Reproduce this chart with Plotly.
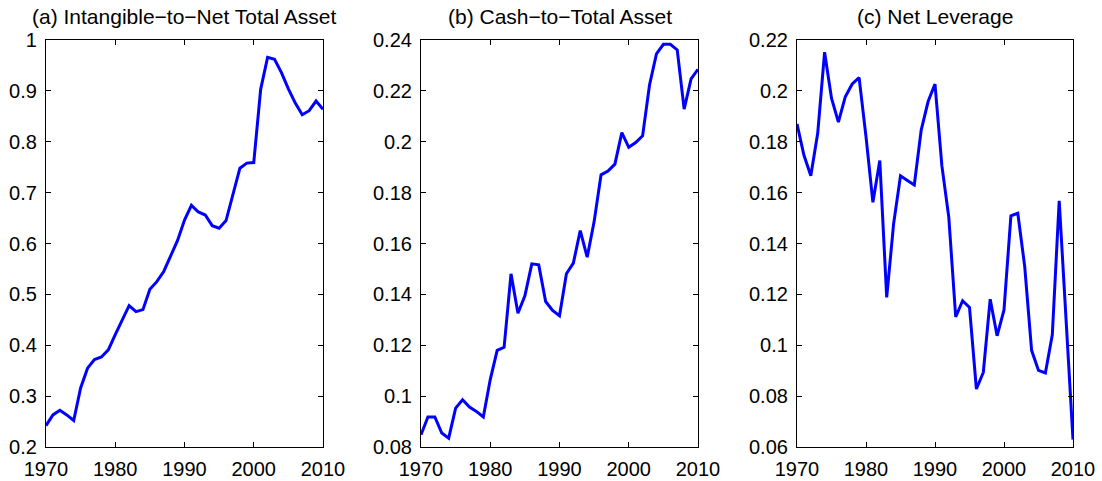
import plotly.graph_objects as go

years = list(range(1970, 2011))

intangible = [0.242, 0.263, 0.272, 0.263, 0.252, 0.316, 0.355, 0.372, 0.377, 0.391,
              0.421, 0.449, 0.478, 0.466, 0.470, 0.510, 0.525, 0.545, 0.574, 0.606,
              0.646, 0.675, 0.662, 0.656, 0.635, 0.630, 0.645, 0.696, 0.748, 0.758,
              0.759, 0.903, 0.966, 0.962, 0.936, 0.904, 0.876, 0.853, 0.861, 0.880,
              0.864]

cash = [0.0848, 0.0918, 0.0918, 0.0855, 0.0835, 0.0953, 0.0986, 0.0957, 0.0940, 0.0918,
        0.1065, 0.1180, 0.1192, 0.1481, 0.1326, 0.1394, 0.1520, 0.1516, 0.1372, 0.1337,
        0.1316, 0.1481, 0.1523, 0.1651, 0.1546, 0.1686, 0.1870, 0.1885, 0.1912, 0.2036,
        0.1978, 0.1997, 0.2023, 0.2223, 0.2345, 0.2383, 0.2383, 0.2361, 0.2128, 0.2247,
        0.2285]

leverage = [0.1870, 0.1748, 0.1666, 0.1833, 0.2152, 0.1971, 0.1877, 0.1977, 0.2027, 0.2052,
            0.1820, 0.1562, 0.1726, 0.1188, 0.1477, 0.1666, 0.1648, 0.1630, 0.1846, 0.1958,
            0.2027, 0.1705, 0.1503, 0.1111, 0.1175, 0.1149, 0.0828, 0.0893, 0.1181, 0.1037,
            0.1139, 0.1509, 0.1519, 0.1310, 0.0980, 0.0901, 0.0891, 0.1041, 0.1568, 0.1100,
            0.0629]

titles = ["(a) Intangible\u2212to\u2212Net Total Asset",
          "(b) Cash\u2212to\u2212Total Asset",
          "(c) Net Leverage"]

x_ticks = [1970, 1980, 1990, 2000, 2010]

a_ticks = [0.2, 0.3, 0.4, 0.5, 0.6, 0.7, 0.8, 0.9, 1.0]
a_labels = ["0.2", "0.3", "0.4", "0.5", "0.6", "0.7", "0.8", "0.9", "1"]
b_ticks = [0.08, 0.10, 0.12, 0.14, 0.16, 0.18, 0.20, 0.22, 0.24]
b_labels = ["0.08", "0.1", "0.12", "0.14", "0.16", "0.18", "0.2", "0.22", "0.24"]
c_ticks = [0.06, 0.08, 0.10, 0.12, 0.14, 0.16, 0.18, 0.20, 0.22]
c_labels = ["0.06", "0.08", "0.1", "0.12", "0.14", "0.16", "0.18", "0.2", "0.22"]

W, H = 1102, 481
domains = [(46 / W, 323 / W), (421 / W, 698 / W), (797 / W, 1073 / W)]
series = [intangible, cash, leverage]
yinfo = [((0.2, 1.0), a_ticks, a_labels),
         ((0.08, 0.24), b_ticks, b_labels),
         ((0.06, 0.22), c_ticks, c_labels)]

FONT = "Liberation Sans, Arial, Helvetica, sans-serif"

fig = go.Figure()
layout = dict(
    width=W, height=H,
    margin=dict(l=0, r=0, t=40, b=34),
    paper_bgcolor="white", plot_bgcolor="white",
    showlegend=False,
    font=dict(family=FONT, size=20, color="black"),
    annotations=[],
)

for i, (vals, dom, (yr, tv, tt)) in enumerate(zip(series, domains, yinfo)):
    n = "" if i == 0 else str(i + 1)
    fig.add_trace(go.Scatter(x=years, y=vals, mode="lines",
                             line=dict(color="#0000ff", width=3),
                             xaxis="x" + n, yaxis="y" + n, hoverinfo="skip"))
    axis_common = dict(showgrid=False, zeroline=False, showline=True,
                       linecolor="black", linewidth=1.2, mirror="ticks",
                       ticks="inside", ticklen=5, tickwidth=1, tickcolor="black",
                       automargin=False,
                       tickfont=dict(family=FONT, size=20, color="black"))
    layout["xaxis" + n] = dict(domain=list(dom), range=[1970, 2010],
                               tickvals=x_ticks, ticktext=[str(v) for v in x_ticks],
                               ticklabelstandoff=4,
                               anchor="y" + n, **axis_common)
    layout["yaxis" + n] = dict(domain=[0, 1], range=list(yr),
                               tickvals=tv, ticktext=tt,
                               ticklabelstandoff=4,
                               anchor="x" + n, **axis_common)
    layout["annotations"].append(dict(
        text=titles[i], x=(dom[0] + dom[1]) / 2, y=1, xref="paper", yref="paper",
        yshift=24, xanchor="center", yanchor="middle", showarrow=False,
        font=dict(family=FONT, size=21, color="black")))

fig.update_layout(**layout)
fig.write_html("out.html",
               config={"displayModeBar": False},
               post_script="document.body.style.margin='0';"
                           "document.body.style.overflow='hidden';"
                           "document.documentElement.style.overflow='hidden';")
